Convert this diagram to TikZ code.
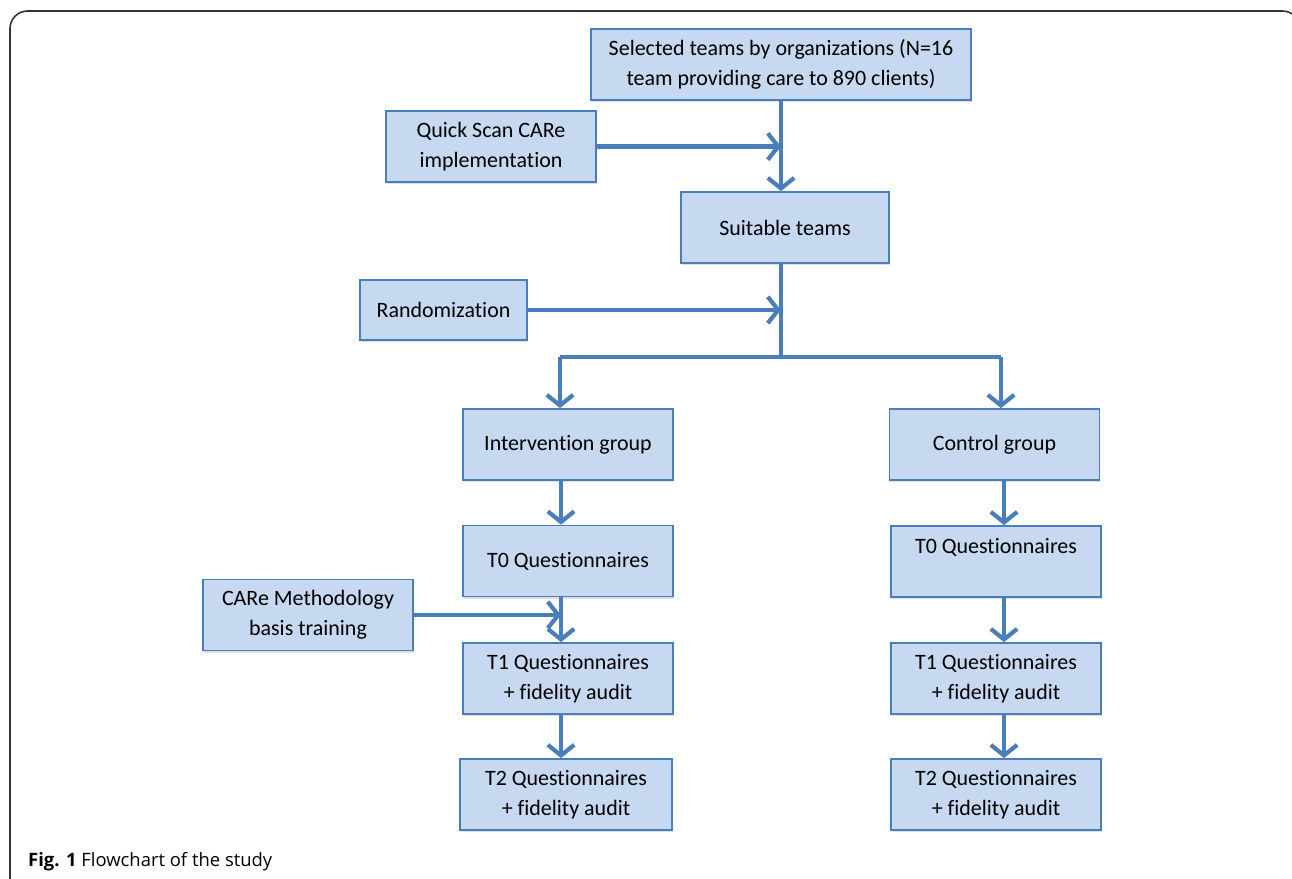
\documentclass[tikz,border=0pt]{standalone}
\usepackage{fontspec}
\setmainfont{Carlito}[Ligatures={NoCommon}]
\newfontfamily\capfont{Open Sans}
\usetikzlibrary{arrows.meta,shadows}
\definecolor{boxfill}{HTML}{C6D9F1}
\definecolor{flowblue}{HTML}{4A7EBB}
\definecolor{framegray}{HTML}{333333}

\begin{document}
\begin{tikzpicture}[x=0.02cm,y=-0.02cm,
  box/.style={draw=flowblue, fill=boxfill, line width=1pt,
    minimum width=4.2cm, minimum height=1.42cm, align=center,
    font=\fontsize{12.5}{17}\selectfont,
    drop shadow={shadow xshift=0.5pt, shadow yshift=-1.2pt, opacity=0.25}},
  bar/.style={draw=flowblue, line width=2.4pt, line join=miter},
  flow/.style={bar, -{Straight Barb[length=6pt,width=15pt]}}]
  \useasboundingbox (0,0) rectangle (1292,879);

 % frame of the figure
 \begin{scope}
  \clip (0,0) rectangle (1292,879);
  \draw[framegray, line width=0.9pt, rounded corners=10] (10,890) -- (10,11) -- (1300,11) -- (1300,890);
 \end{scope}

 \node[box, minimum width=7.6cm] (sel) at (781,64.5) {Selected teams by organizations (N=16\\team providing care to 890 clients)};
 \node[box] (scan) at (491,146.5) {Quick Scan CARe\\implementation};
 \node[box, minimum width=4.16cm] (suit) at (785,227.5) {Suitable teams};
 \node[box, minimum width=3.34cm, minimum height=1.2cm] (rand) at (443.5,310) {Randomization};

 \node[box] (int) at (568,444.5) {Intervention group};
 \node[box] (ctrl) at (994.5,444.5) {Control group};
 \node[box] (tzl) at (568,561) {T0 Questionnaires};
 \node[box] (tzr) at (996,561.5) {T0 Questionnaires\\[-4pt]\strut};
 \node[box] (care) at (308,615) {CARe Methodology\\basis training};
 \node[box] (tol) at (568,678.5) {T1 Questionnaires\\+ fidelity audit};
 \node[box] (tor) at (996,678.5) {T1 Questionnaires\\+ fidelity audit};
 \node[box, minimum width=4.24cm] (twl) at (566,794.5) {T2 Questionnaires\\+ fidelity audit};
 \node[box] (twr) at (996,794.5) {T2 Questionnaires\\+ fidelity audit};

 \coordinate (split) at (781,357);
 \coordinate (sl) at (560,357);
 \coordinate (sr) at (1001,357);
 \coordinate (cl) at (561,0);
 \coordinate (cr) at (1004,0);

 \draw[flow] (sel.south) -- (sel.south |- suit.north);
 \draw[flow] (scan.east) -- (scan.east -| sel.south);
 \draw[bar] (suit.south -| split) -- (split);
 \draw[flow] (rand.east) -- (rand.east -| split);
 \draw[bar] (sl) -- (sr);
 \draw[flow] (sl) -- (sl |- int.north);
 \draw[flow] (sr) -- (sr |- ctrl.north);

 \draw[flow] (int.south -| cl) -- (tzl.north -| cl);
 \draw[flow] (tzl.south -| cl) -- (tol.north -| cl);
 \draw[flow] (care.east) -- (care.east -| cl);
 \draw[flow] (tol.south -| cl) -- (twl.north -| cl);

 \draw[flow] (ctrl.south -| cr) -- (tzr.north -| cr);
 \draw[flow] (tzr.south -| cr) -- (tor.north -| cr);
 \draw[flow] (tor.south -| cr) -- (twr.north -| cr);

 \node[anchor=west, font=\capfont\fontsize{10.5}{12}\selectfont] (cap) at (22,862) {\textbf{Fig. 1} Flowchart of the study};
\end{tikzpicture}
\end{document}
